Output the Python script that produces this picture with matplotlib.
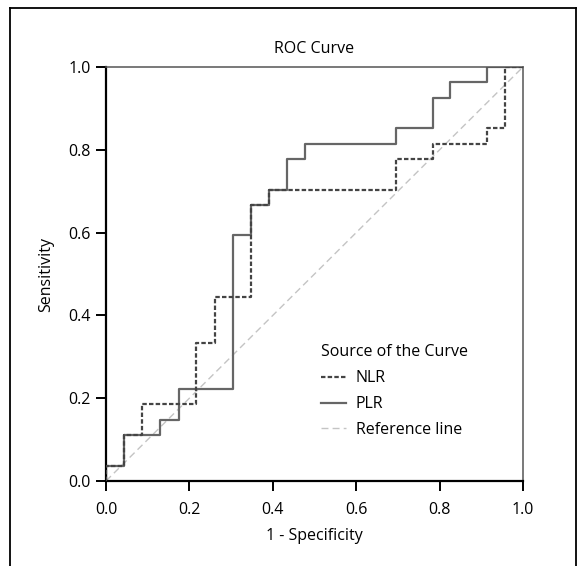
import numpy as np
import matplotlib
matplotlib.use("Agg")
import matplotlib.pyplot as plt
from matplotlib.lines import Line2D

plt.rcParams['font.family'] = ['Open Sans', 'DejaVu Sans']

# staircase vertices (1 - specificity, sensitivity)
nlr_fpr = [0.0, 0.0, 0.043, 0.043, 0.087, 0.087, 0.217, 0.217, 0.261, 0.261,
           0.348, 0.348, 0.391, 0.391, 0.696, 0.696, 0.783, 0.783, 0.913, 0.913,
           0.957, 0.957, 1.0]
nlr_tpr = [0.0, 0.037, 0.037, 0.111, 0.111, 0.185, 0.185, 0.333, 0.333, 0.444,
           0.444, 0.667, 0.667, 0.704, 0.704, 0.778, 0.778, 0.815, 0.815, 0.852,
           0.852, 1.0, 1.0]

plr_fpr = [0.0, 0.0, 0.043, 0.043, 0.130, 0.130, 0.174, 0.174, 0.304, 0.304,
           0.348, 0.348, 0.391, 0.391, 0.435, 0.435, 0.478, 0.478, 0.696, 0.696,
           0.783, 0.783, 0.826, 0.826, 0.913, 0.913, 1.0]
plr_tpr = [0.0, 0.037, 0.037, 0.111, 0.111, 0.148, 0.148, 0.222, 0.222, 0.593,
           0.593, 0.667, 0.667, 0.704, 0.704, 0.778, 0.778, 0.815, 0.815, 0.852,
           0.852, 0.926, 0.926, 0.963, 0.963, 1.0, 1.0]

ref_x = [0.0, 1.0]
ref_y = [0.0, 1.0]

ticks = [0.0, 0.2, 0.4, 0.6, 0.8, 1.0]

FS = 11.5
W, H = 584, 566
fig = plt.figure(figsize=(W / 100, H / 100), dpi=100)
fig.set_facecolor('white')

# axes box in pixels: left 106, right 523, top 67, bottom 481
ax = fig.add_axes([106 / W, (H - 481) / H, 417 / W, 414 / H])

ax.plot(ref_x, ref_y, color='#c4c4c4', lw=1.0, dashes=(5, 3), label='Reference line', zorder=1)
ax.plot(plr_fpr, plr_tpr, color='#666666', lw=1.6, label='PLR', zorder=2)
ax.plot(nlr_fpr, nlr_tpr, color='#444444', lw=1.6, dashes=(2.0, 1.0), label='NLR', zorder=3)

ax.set_xlim(0, 1)
ax.set_ylim(0, 1)
ax.set_xticks(ticks)
ax.set_yticks(ticks)
ax.xaxis.set_major_formatter(lambda x, pos: f"{x:.1f}")
ax.yaxis.set_major_formatter(lambda y, pos: f"{y:.1f}")
ax.tick_params(direction='out', length=7, width=1.4, labelsize=FS, color='black', pad=4)
ax.tick_params(axis='x', pad=8)

for side in ['left', 'bottom']:
    ax.spines[side].set_linewidth(1.6)
    ax.spines[side].set_color('black')
for side in ['top', 'right']:
    ax.spines[side].set_linewidth(1.1)
    ax.spines[side].set_color('#555555')

ax.set_title("ROC Curve", fontsize=FS, pad=10)
ax.set_xlabel("1 - Specificity", fontsize=FS, labelpad=7)
ax.set_ylabel("Sensitivity", fontsize=FS, labelpad=10)

# legend
handles, labels = ax.get_legend_handles_labels()
order = [2, 1, 0]
leg = ax.legend([handles[i] for i in order], [labels[i] for i in order],
                title="Source of the Curve", loc='upper left',
                bbox_to_anchor=(0.515, 0.33), frameon=False,
                fontsize=FS, title_fontsize=FS, handlelength=1.6,
                handletextpad=0.6, labelspacing=0.62, borderpad=0,
                borderaxespad=0, alignment='left')

# outer border of the panel
px = lambda x: x / W
py = lambda y: 1 - y / H
for xs, ys in [([10, 10], [8, H + 5]), ([10, 576], [8, 8]), ([576, 576], [8, H + 5])]:
    fig.add_artist(Line2D([px(v) for v in xs], [py(v) for v in ys],
                          color='black', lw=1.3, transform=fig.transFigure))

fig.savefig("out.png", dpi=100)
